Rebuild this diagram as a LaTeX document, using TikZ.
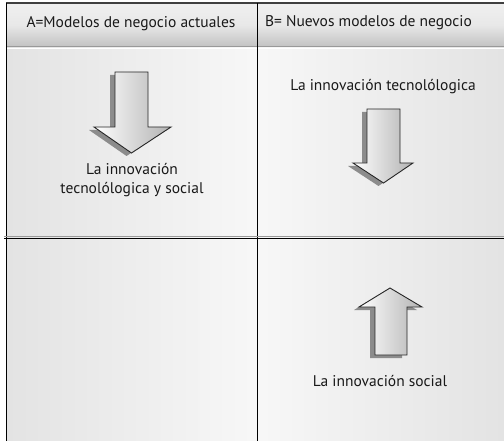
\documentclass[tikz,border=0pt]{standalone}
\usepackage{fontspec}
\setmainfont{PT Sans}
\usetikzlibrary{positioning}
\tikzset{>=latex}
\tikzstyle{rotulo}=[text=black!90, font=\fontsize{15.5}{19}\selectfont, align=center, inner sep=0pt]
\tikzstyle{bloque}=[draw=black!85, line width=0.9pt, shading=axis, left color=white, right color=black!30]
\tikzstyle{sombra}=[fill=black!45, draw=none]

\begin{document}
\begin{tikzpicture}[x=1pt,y=-1pt]
  \useasboundingbox (0,0) rectangle (504,441);
  \fill[white] (0,0) rectangle (504,441);
  % cuerpo de la tabla
  \shade[left color=black!11, right color=black!3] (6,47) rectangle (257,441);
  \shade[left color=black!3, right color=black!11] (257,47) rectangle (504,441);
  % cabecera
  \shade[top color=black!6, bottom color=black!24, middle color=black!9] (6,3) rectangle (504,47);
  \draw[black!40, line width=1pt] (6,47) -- (504,47);
  \draw[white, line width=0.8pt] (6,48.5) -- (504,48.5);

  % lineas
  \draw[black!75, line width=1.6pt] (6,3) -- (504,3);
  \draw[line width=1pt] (6,3) -- (6,441);
  \draw[line width=1pt] (257.5,3) -- (257.5,441);
  \draw[black!40, line width=1.2pt] (4,236.5) -- (504,236.5);
  \draw[line width=0.9pt] (4,238) -- (504,238);

  \node (hA) [rotulo] at (131,24) {A=Modelos de negocio actuales};
  \node (hB) [rotulo] at (368.5,23) {B= Nuevos modelos de negocio};

  % flecha A (abajo)
  \fill[sombra,shift={(-5,3)}] (115,72) -- (148,72) -- (148,127) -- (171,127)
    -- (131.5,153) -- (94,127) -- (115,127) -- cycle;
  \draw[bloque] (115,72) -- (148,72) -- (148,127) -- (171,127)
    -- (131.5,153) -- (94,127) -- (115,127) -- cycle;
  \node (tA) [rotulo] at (132,180) {La innovación\\tecnolólogica y social};

  % flecha B (abajo)
  \node (tB1) [rotulo] at (383,87) {La innovación tecnolólogica};
  \fill[sombra,shift={(-5,3)}] (367,109) -- (400,109) -- (400,163) -- (413,163)
    -- (383.5,183) -- (353,163) -- (367,163) -- cycle;
  \draw[bloque] (367,109) -- (400,109) -- (400,163) -- (413,163)
    -- (383.5,183) -- (353,163) -- (367,163) -- cycle;

  % flecha B (arriba)
  \fill[sombra,shift={(-5,3)}] (375,355) -- (407,355) -- (407,307) -- (422,307)
    -- (390,288) -- (359,307) -- (375,307) -- cycle;
  \draw[bloque] (375,355) -- (407,355) -- (407,307) -- (422,307)
    -- (390,288) -- (359,307) -- (375,307) -- cycle;
  \node (tB2) [rotulo] at (380,381) {La innovación social};
\end{tikzpicture}
\end{document}
